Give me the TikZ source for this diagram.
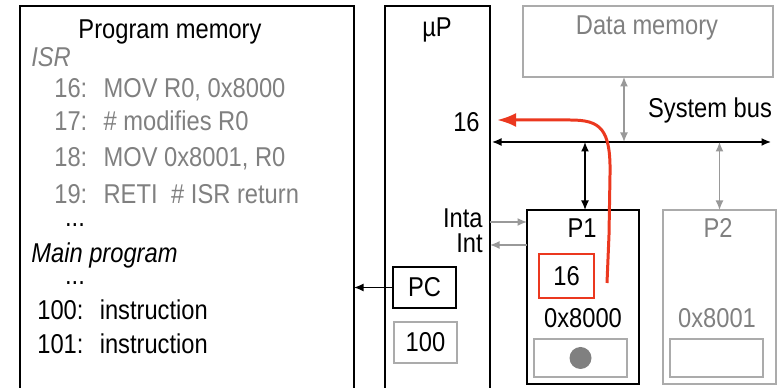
\documentclass[tikz,border=0pt]{standalone}
\usepackage{fontspec}
\setmainfont{Liberation Sans}[FakeStretch=0.87]
\usetikzlibrary{arrows,arrows.meta,positioning,calc}
\definecolor{gris}{rgb}{0.5,0.5,0.5}
\definecolor{grisclair}{rgb}{0.67,0.67,0.67}
\definecolor{grisfleche}{rgb}{0.6,0.6,0.6}
\definecolor{rouge}{rgb}{0.92,0.22,0.12}

\begin{document}
\begin{tikzpicture}[x=0.2mm,y=-0.2mm,
  boite/.style={rectangle,draw,line width=0.7pt,inner sep=0pt,outer sep=0pt},
  boitegrise/.style={boite,draw=grisclair},
  txt/.style={inner sep=0pt,font=\fontsize{15.5}{18}\selectfont},
  fleche/.style={line width=0.8pt,>={Latex[length=1.9mm,width=1.6mm]}}]
\useasboundingbox (0,0) rectangle (783,388);
% les boites
\node (PM) at (187,203) [boite,minimum width=66.8mm,minimum height=78.8mm] {};
\node (UP) at (437.5,203) [boite,minimum width=21mm,minimum height=78.8mm] {};
\node (DM) at (648,41.5) [boitegrise,minimum width=50mm,minimum height=14.2mm] {};
\node (P1) at (583,297) [boite,minimum width=22.4mm,minimum height=34.8mm] {};
\node (P2) at (719.5,297) [boitegrise,minimum width=22.6mm,minimum height=34.8mm] {};
\node (R16) at (566.5,276) [boite,draw=rouge,line width=1.6pt,minimum width=11mm,minimum height=8.8mm,txt] {16};
\node (S1) at (580.5,358) [boitegrise,minimum width=18.6mm,minimum height=7.6mm] {};
\node (S2) at (716.5,358) [boitegrise,minimum width=18.6mm,minimum height=7.6mm] {};
\node (PC) at (424.5,287.5) [boite,minimum width=12.6mm,minimum height=8.2mm,txt] {PC};
\node (R100) at (425.5,342.5) [boitegrise,minimum width=12.6mm,minimum height=8.2mm,txt] {100};
\fill[gris] (S1.center) circle (11);

% textes de la memoire programme
\node (titrePM) at (170,39) [txt,anchor=base] {Program memory};
\node (isr) at (31,67) [txt,anchor=base west,text=gris] {\itshape ISR};
\node (l16) at (54,98) [txt,anchor=base west,text=gris] {16:\hspace{.6em}MOV R0, 0x8000};
\node (l17) at (54,131) [txt,anchor=base west,text=gris] {17:\hspace{.6em}\# modifies R0};
\node (l18) at (54,167) [txt,anchor=base west,text=gris] {18:\hspace{.6em}MOV 0x8001, R0};
\node (l19) at (54,204) [txt,anchor=base west,text=gris] {19:\hspace{.6em}RETI\hspace{.5em}\# ISR return};
\node (pts1) at (75,227) [txt,anchor=base] {...};
\node (main) at (31,263) [txt,anchor=base west] {\itshape Main program};
\node (pts2) at (75,285) [txt,anchor=base] {...};
\node (l100) at (37,320) [txt,anchor=base west] {100:\hspace{.6em}instruction};
\node (l101) at (37,354) [txt,anchor=base west] {101:\hspace{.6em}instruction};

% autres textes
\node (titreUP) at (437,37) [txt,anchor=base] {µP};
\node (titreDM) at (647,35) [txt,anchor=base,text=gris] {Data memory};
\node (bus) at (710,118) [txt,anchor=base] {System bus};
\node (pc16) at (480,132) [txt,anchor=base east] {16};
\node (inta) at (483,228) [txt,anchor=base east] {Inta};
\node (int) at (483,253) [txt,anchor=base east] {Int};
\node (titreP1) at (582,238) [txt,anchor=base] {P1};
\node (ad1) at (583,328) [txt,anchor=base] {0x8000};
\node (titreP2) at (718,238) [txt,anchor=base,text=gris] {P2};
\node (ad2) at (717,328) [txt,anchor=base,text=gris] {0x8001};

% le bus et les liaisons
\coordinate (busG) at (492,142);
\coordinate (busD) at (771,142);
\draw[fleche,<->] (busG) -- (busD);
\draw[fleche,<->,grisfleche] (DM.south -| 624,0) -- (624,0 |- busG);
\draw[fleche,<->] (585,0 |- busG) -- (585,0 |- P1.north);
\draw[fleche,<->,grisfleche] (P2.north |- busG) -- (P2.north);
\draw[fleche,->,grisfleche] (UP.east |- 0,222) -- (P1.west |- 0,222);
\draw[fleche,->,grisfleche] (P1.west |- 0,245) -- (UP.east |- 0,245);
\draw[fleche,->] (PC.west) -- (PC.west -| PM.east);

% le retour de l'adresse 16
\coordinate (depart) at (607,283);
\draw[rouge,line width=1.7pt,-{Latex[length=3.8mm,width=2.8mm]}] (depart) -- (609,235) -- (610,175)
  .. controls (611,128) and (600,120) .. (570,120) -- (497,120);
\end{tikzpicture}
\end{document}
